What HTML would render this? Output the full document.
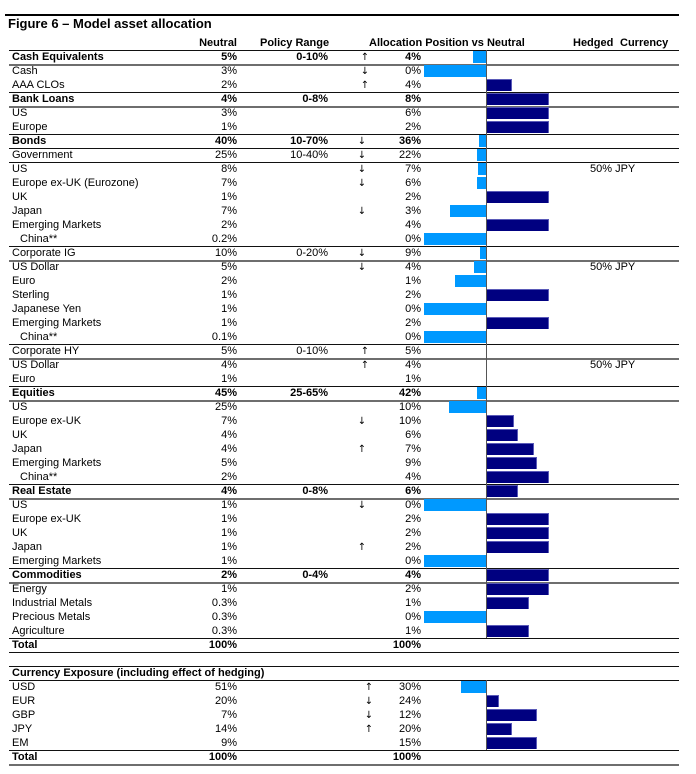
<!DOCTYPE html>
<html><head><meta charset="utf-8">
<style>
html,body{margin:0;padding:0;background:#fff;}
body{width:696px;height:774px;position:relative;overflow:hidden;font-family:"Liberation Sans",Arial,sans-serif;font-size:11px;color:#000;}
.t{position:absolute;left:8px;top:17px;font-size:13px;font-weight:bold;line-height:14px;white-space:nowrap;}
.r{position:absolute;left:0;width:696px;height:14px;line-height:15px;white-space:nowrap;}
.r span,.r i{position:absolute;top:0;}
.l{left:12px;}
.in{left:20px;}
.n{left:170px;width:67px;text-align:right;}
.p{left:250px;width:78px;text-align:right;}
.a1,.a2,.a3{width:12px;text-align:center;font-family:"DejaVu Sans","Liberation Sans",sans-serif;font-size:10px;}
.a1{left:359px;}.a2{left:356px;}.a3{left:363px;}
.v{left:370px;width:51px;text-align:right;}
.h{left:590px;}
.b{font-weight:bold;}
.r i{top:1px;height:12px;display:block;}
.bn{right:210px;background:#0099ff;}
.bp{left:487px;background:#000080;box-shadow:inset -1px 0 0 #5a5ab8,inset 0 1px 0 #5a5ab8;}
.ln{position:absolute;left:9px;width:670px;height:1px;background:#111;}
.lg{position:absolute;left:9px;width:670px;height:2px;background:#6e6e6e;}
.ax{position:absolute;left:486px;width:1px;background:#555;}
</style></head><body>
<div style="position:absolute;left:5px;top:14px;width:674px;height:2px;background:#000;"></div>
<div class="t">Figure 6 – Model asset allocation</div>

<div class="r" style="top:36px"><span class="n b">Neutral</span><span class="b" style="left:260px">Policy Range</span><span class="b" style="left:369px">Allocation Position vs Neutral</span><span class="b" style="left:573px">Hedged</span><span class="b" style="left:620px">Currency</span></div>

<!-- lines -->
<div class="ln" style="top:50px"></div>
<div class="lg" style="top:64px"></div>
<div class="ln" style="top:92px"></div>
<div class="lg" style="top:106px"></div>
<div class="ln" style="top:134px"></div>
<div class="ln" style="top:148px"></div>
<div class="ln" style="top:162px"></div>
<div class="ln" style="top:246px"></div>
<div class="lg" style="top:260px"></div>
<div class="ln" style="top:344px"></div>
<div class="lg" style="top:358px"></div>
<div class="ln" style="top:386px"></div>
<div class="lg" style="top:400px"></div>
<div class="ln" style="top:484px"></div>
<div class="lg" style="top:498px"></div>
<div class="ln" style="top:568px"></div>
<div class="lg" style="top:582px"></div>
<div class="ln" style="top:638px"></div>
<div class="ln" style="top:652px"></div>
<div class="ln" style="top:666px"></div>
<div class="ln" style="top:680px"></div>
<div class="ln" style="top:750px"></div>
<div class="lg" style="top:764px"></div>

<div class="ax" style="top:50px;height:588px"></div>
<div class="ax" style="top:680px;height:70px"></div>

<div class="r" style="top:50px"><span class="l b">Cash Equivalents</span><span class="n b">5%</span><span class="p b">0-10%</span><span class="a1">↑</span><span class="v b">4%</span><i class="bn" style="width:13px"></i></div>
<div class="r" style="top:64px"><span class="l">Cash</span><span class="n">3%</span><span class="a1">↓</span><span class="v">0%</span><i class="bn" style="width:62px"></i></div>
<div class="r" style="top:78px"><span class="l">AAA CLOs</span><span class="n">2%</span><span class="a1">↑</span><span class="v">4%</span><i class="bp" style="width:25px"></i></div>
<div class="r" style="top:92px"><span class="l b">Bank Loans</span><span class="n b">4%</span><span class="p b">0-8%</span><span class="v b">8%</span><i class="bp" style="width:62px"></i></div>
<div class="r" style="top:106px"><span class="l">US</span><span class="n">3%</span><span class="v">6%</span><i class="bp" style="width:62px"></i></div>
<div class="r" style="top:120px"><span class="l">Europe</span><span class="n">1%</span><span class="v">2%</span><i class="bp" style="width:62px"></i></div>
<div class="r" style="top:134px"><span class="l b">Bonds</span><span class="n b">40%</span><span class="p b">10-70%</span><span class="a2">↓</span><span class="v b">36%</span><i class="bn" style="width:7px"></i></div>
<div class="r" style="top:148px"><span class="l">Government</span><span class="n">25%</span><span class="p">10-40%</span><span class="a2">↓</span><span class="v">22%</span><i class="bn" style="width:9px"></i></div>
<div class="r" style="top:162px"><span class="l">US</span><span class="n">8%</span><span class="a2">↓</span><span class="v">7%</span><i class="bn" style="width:8px"></i><span class="h">50% JPY</span></div>
<div class="r" style="top:176px"><span class="l">Europe ex-UK (Eurozone)</span><span class="n">7%</span><span class="a2">↓</span><span class="v">6%</span><i class="bn" style="width:9px"></i></div>
<div class="r" style="top:190px"><span class="l">UK</span><span class="n">1%</span><span class="v">2%</span><i class="bp" style="width:62px"></i></div>
<div class="r" style="top:204px"><span class="l">Japan</span><span class="n">7%</span><span class="a2">↓</span><span class="v">3%</span><i class="bn" style="width:36px"></i></div>
<div class="r" style="top:218px"><span class="l">Emerging Markets</span><span class="n">2%</span><span class="v">4%</span><i class="bp" style="width:62px"></i></div>
<div class="r" style="top:232px"><span class="in">China**</span><span class="n">0.2%</span><span class="v">0%</span><i class="bn" style="width:62px"></i></div>
<div class="r" style="top:246px"><span class="l">Corporate IG</span><span class="n">10%</span><span class="p">0-20%</span><span class="a2">↓</span><span class="v">9%</span><i class="bn" style="width:6px"></i></div>
<div class="r" style="top:260px"><span class="l">US Dollar</span><span class="n">5%</span><span class="a2">↓</span><span class="v">4%</span><i class="bn" style="width:12px"></i><span class="h">50% JPY</span></div>
<div class="r" style="top:274px"><span class="l">Euro</span><span class="n">2%</span><span class="v">1%</span><i class="bn" style="width:31px"></i></div>
<div class="r" style="top:288px"><span class="l">Sterling</span><span class="n">1%</span><span class="v">2%</span><i class="bp" style="width:62px"></i></div>
<div class="r" style="top:302px"><span class="l">Japanese Yen</span><span class="n">1%</span><span class="v">0%</span><i class="bn" style="width:62px"></i></div>
<div class="r" style="top:316px"><span class="l">Emerging Markets</span><span class="n">1%</span><span class="v">2%</span><i class="bp" style="width:62px"></i></div>
<div class="r" style="top:330px"><span class="in">China**</span><span class="n">0.1%</span><span class="v">0%</span><i class="bn" style="width:62px"></i></div>
<div class="r" style="top:344px"><span class="l">Corporate HY</span><span class="n">5%</span><span class="p">0-10%</span><span class="a1">↑</span><span class="v">5%</span></div>
<div class="r" style="top:358px"><span class="l">US Dollar</span><span class="n">4%</span><span class="a1">↑</span><span class="v">4%</span><span class="h">50% JPY</span></div>
<div class="r" style="top:372px"><span class="l">Euro</span><span class="n">1%</span><span class="v">1%</span></div>
<div class="r" style="top:386px"><span class="l b">Equities</span><span class="n b">45%</span><span class="p b">25-65%</span><span class="v b">42%</span><i class="bn" style="width:9px"></i></div>
<div class="r" style="top:400px"><span class="l">US</span><span class="n">25%</span><span class="v">10%</span><i class="bn" style="width:37px"></i></div>
<div class="r" style="top:414px"><span class="l">Europe ex-UK</span><span class="n">7%</span><span class="a2">↓</span><span class="v">10%</span><i class="bp" style="width:27px"></i></div>
<div class="r" style="top:428px"><span class="l">UK</span><span class="n">4%</span><span class="v">6%</span><i class="bp" style="width:31px"></i></div>
<div class="r" style="top:442px"><span class="l">Japan</span><span class="n">4%</span><span class="a2">↑</span><span class="v">7%</span><i class="bp" style="width:47px"></i></div>
<div class="r" style="top:456px"><span class="l">Emerging Markets</span><span class="n">5%</span><span class="v">9%</span><i class="bp" style="width:50px"></i></div>
<div class="r" style="top:470px"><span class="in">China**</span><span class="n">2%</span><span class="v">4%</span><i class="bp" style="width:62px"></i></div>
<div class="r" style="top:484px"><span class="l b">Real Estate</span><span class="n b">4%</span><span class="p b">0-8%</span><span class="v b">6%</span><i class="bp" style="width:31px"></i></div>
<div class="r" style="top:498px"><span class="l">US</span><span class="n">1%</span><span class="a2">↓</span><span class="v">0%</span><i class="bn" style="width:62px"></i></div>
<div class="r" style="top:512px"><span class="l">Europe ex-UK</span><span class="n">1%</span><span class="v">2%</span><i class="bp" style="width:62px"></i></div>
<div class="r" style="top:526px"><span class="l">UK</span><span class="n">1%</span><span class="v">2%</span><i class="bp" style="width:62px"></i></div>
<div class="r" style="top:540px"><span class="l">Japan</span><span class="n">1%</span><span class="a2">↑</span><span class="v">2%</span><i class="bp" style="width:62px"></i></div>
<div class="r" style="top:554px"><span class="l">Emerging Markets</span><span class="n">1%</span><span class="v">0%</span><i class="bn" style="width:62px"></i></div>
<div class="r" style="top:568px"><span class="l b">Commodities</span><span class="n b">2%</span><span class="p b">0-4%</span><span class="v b">4%</span><i class="bp" style="width:62px"></i></div>
<div class="r" style="top:582px"><span class="l">Energy</span><span class="n">1%</span><span class="v">2%</span><i class="bp" style="width:62px"></i></div>
<div class="r" style="top:596px"><span class="l">Industrial Metals</span><span class="n">0.3%</span><span class="v">1%</span><i class="bp" style="width:42px"></i></div>
<div class="r" style="top:610px"><span class="l">Precious Metals</span><span class="n">0.3%</span><span class="v">0%</span><i class="bn" style="width:62px"></i></div>
<div class="r" style="top:624px"><span class="l">Agriculture</span><span class="n">0.3%</span><span class="v">1%</span><i class="bp" style="width:42px"></i></div>
<div class="r" style="top:638px"><span class="l b">Total</span><span class="n b">100%</span><span class="v b">100%</span></div>

<div class="r" style="top:666px"><span class="l b">Currency Exposure (including effect of hedging)</span></div>
<div class="r" style="top:680px"><span class="l">USD</span><span class="n">51%</span><span class="a3">↑</span><span class="v">30%</span><i class="bn" style="width:25px"></i></div>
<div class="r" style="top:694px"><span class="l">EUR</span><span class="n">20%</span><span class="a3">↓</span><span class="v">24%</span><i class="bp" style="width:12px"></i></div>
<div class="r" style="top:708px"><span class="l">GBP</span><span class="n">7%</span><span class="a3">↓</span><span class="v">12%</span><i class="bp" style="width:50px"></i></div>
<div class="r" style="top:722px"><span class="l">JPY</span><span class="n">14%</span><span class="a3">↑</span><span class="v">20%</span><i class="bp" style="width:25px"></i></div>
<div class="r" style="top:736px"><span class="l">EM</span><span class="n">9%</span><span class="v">15%</span><i class="bp" style="width:50px"></i></div>
<div class="r" style="top:750px"><span class="l b">Total</span><span class="n b">100%</span><span class="v b">100%</span></div>
</body></html>
